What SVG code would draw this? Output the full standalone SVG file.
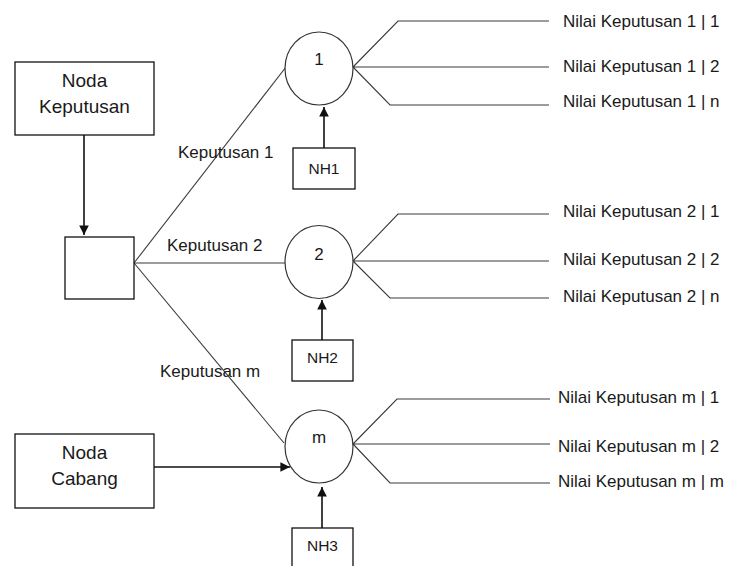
<svg xmlns="http://www.w3.org/2000/svg" width="733" height="566" viewBox="0 0 733 566">
  <style>
    text { font-family: "Liberation Sans", Arial, sans-serif; fill: #1a1a1a; }
    .box { fill: #ffffff; stroke: #111; stroke-width: 1.3; }
    .chance { fill: #ffffff; stroke: #333; stroke-width: 1.2; }
    .big { font-size: 19px; text-anchor: middle; }
    .lbl { font-size: 17px; }
    .num { font-size: 17px; text-anchor: middle; }
    .nh { font-size: 15.5px; text-anchor: middle; }
    .branch { fill: none; stroke: #3a3a3a; stroke-width: 1.1; }
    .arrow { fill: none; stroke: #111; stroke-width: 1.6; marker-end: url(#head); }
  </style>
  <defs>
    <marker id="head" viewBox="0 0 10 10" refX="10" refY="5" markerWidth="6" markerHeight="6" markerUnits="strokeWidth" orient="auto">
      <path d="M0,0 L10,5 L0,10 z" fill="#111"/>
    </marker>
  </defs>
  <rect width="733" height="566" fill="#ffffff"/>

  <g id="connectors">
    <!-- decision branches -->
    <path class="branch" d="M134,263 L286,67"/>
    <path class="branch" d="M134,263 L285,263"/>
    <path class="branch" d="M134,263 L284,443"/>
    <!-- outcome fans -->
    <path class="branch" d="M353,67 L398,21 L549,21 M353,67 L549,67 M353,67 L390,105 L549,105"/>
    <path class="branch" d="M353,261 L398,214 L549,214 M353,261 L549,261 M353,261 L390,298 L549,298"/>
    <path class="branch" d="M353,444 L397,399 L550,399 M353,444 L550,444 M353,444 L390,483 L550,483"/>
    <!-- arrows -->
    <path class="arrow" d="M84,135 L84,235"/>
    <path class="arrow" d="M154,467 L290,467"/>
    <path class="arrow" d="M324,148 L324,107"/>
    <path class="arrow" d="M322,340 L322,300"/>
    <path class="arrow" d="M322,528 L322,487"/>
  </g>

  <g id="noda-keputusan">
    <rect class="box" x="15" y="62" width="139" height="73"/>
    <text class="big" x="84.5" y="87">Noda</text>
    <text class="big" x="84.5" y="113">Keputusan</text>
  </g>

  <g id="keputusan">
    <rect class="box" x="65" y="237" width="69" height="62"/>
  </g>

  <g id="noda-cabang">
    <rect class="box" x="15" y="434" width="139" height="74"/>
    <text class="big" x="84.5" y="459">Noda</text>
    <text class="big" x="84.5" y="485">Cabang</text>
  </g>

  <g id="branch-labels">
    <text class="lbl" x="178" y="158">Keputusan 1</text>
    <text class="lbl" x="167" y="251">Keputusan 2</text>
    <text class="lbl" x="160" y="377">Keputusan m</text>
  </g>

  <g id="chance-1">
    <ellipse class="chance" cx="319" cy="68.5" rx="34" ry="36.5"/>
    <text class="num" x="319" y="65">1</text>
  </g>
  <g id="chance-2">
    <ellipse class="chance" cx="319" cy="262" rx="34" ry="36.5"/>
    <text class="num" x="319" y="260">2</text>
  </g>
  <g id="chance-m">
    <ellipse class="chance" cx="319" cy="446.5" rx="34" ry="36.5"/>
    <text class="num" x="319" y="443">m</text>
  </g>

  <g id="nh1">
    <rect class="box" x="293" y="148" width="62" height="41"/>
    <text class="nh" x="324" y="174">NH1</text>
  </g>
  <g id="nh2">
    <rect class="box" x="292" y="340" width="61" height="41"/>
    <text class="nh" x="322.5" y="363">NH2</text>
  </g>
  <g id="nh3">
    <rect class="box" x="292" y="528" width="61" height="44"/>
    <text class="nh" x="322.5" y="551">NH3</text>
  </g>

  <g id="outcomes-1">
    <text class="lbl" x="563" y="27">Nilai Keputusan 1 | 1</text>
    <text class="lbl" x="563" y="72">Nilai Keputusan 1 | 2</text>
    <text class="lbl" x="563" y="107">Nilai Keputusan 1 | n</text>
  </g>
  <g id="outcomes-2">
    <text class="lbl" x="563" y="217">Nilai Keputusan 2 | 1</text>
    <text class="lbl" x="563" y="265">Nilai Keputusan 2 | 2</text>
    <text class="lbl" x="563" y="302">Nilai Keputusan 2 | n</text>
  </g>
  <g id="outcomes-m">
    <text class="lbl" x="558" y="403">Nilai Keputusan m | 1</text>
    <text class="lbl" x="558" y="452">Nilai Keputusan m | 2</text>
    <text class="lbl" x="558" y="487">Nilai Keputusan m | m</text>
  </g>
</svg>
